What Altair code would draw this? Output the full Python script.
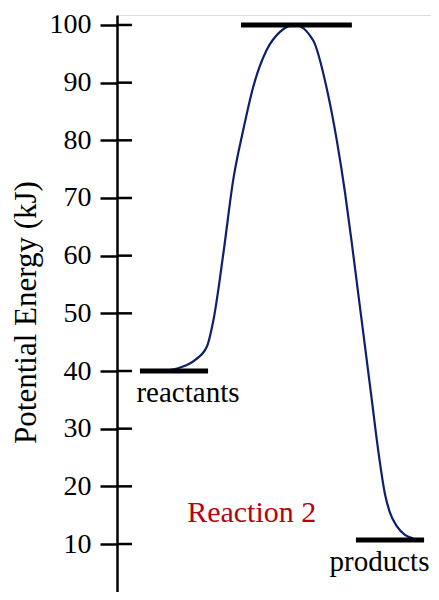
import altair as alt
import pandas as pd

# Reaction coordinate (arbitrary units, 0-100) and potential energy (kJ)
curve_x = [15.3, 20.1, 24.8, 28.6, 30.7, 33.9, 37.0, 40.2, 43.4, 47.7, 51.9, 54.6, 56.7,
           62.5, 66.8, 70.0, 72.6, 74.8, 76.9, 79.0, 81.1, 83.2, 85.4, 86.9, 89.1, 91.7, 94.3]
curve_y = [40.0, 40.6, 41.9, 44.2, 48.8, 60.5, 73.1, 81.8, 89.3, 95.7, 98.8, 99.8, 100.0,
           97.3, 89.0, 80.0, 71.0, 62.1, 53.1, 44.2, 35.2, 26.2, 18.5, 15.5, 13.1, 11.6, 11.0]

level_names = ["reactants", "transition", "products"]
level_start = [7.3, 39.5, 76.1]
level_end = [29.0, 74.8, 97.8]
level_energy = [40.0, 100.0, 10.7]

label_text = ["reactants", "products"]
label_x = [22.6, 83.6]
label_y = [40.0, 10.7]

title_text = ["Reaction 2"]
title_x = [42.9]
title_y = [13.9]

tick_values = [10, 20, 30, 40, 50, 60, 70, 80, 90, 100]

FONT = "Liberation Serif"

curve_df = pd.DataFrame({"x": curve_x, "y": curve_y})
levels_df = pd.DataFrame({"name": level_names, "x": level_start, "x2": level_end, "y": level_energy})
labels_df = pd.DataFrame({"text": label_text, "x": label_x, "y": label_y})
title_df = pd.DataFrame({"text": title_text, "x": title_x, "y": title_y})
ticks_df = pd.DataFrame({"y": tick_values})

xscale = alt.Scale(domain=[0, 100], nice=False, zero=False)
yscale = alt.Scale(domain=[1.68, 101.73], nice=False, zero=False)

yaxis = alt.Axis(
    title="Potential Energy (kJ)",
    values=tick_values,
    grid=False,
    domainColor="black",
    domainWidth=2.5,
    tickColor="black",
    tickWidth=2.5,
    tickSize=17,
    labelPadding=9,
    labelFont=FONT,
    labelFontSize=28,
    labelColor="black",
    titleFont=FONT,
    titleFontSize=31,
    titleFontWeight="normal",
    titleColor="black",
    titleAngle=270,
    titleAlign="center",
    titleBaseline="middle",
    titleX=-91,
    titleY=297,
)

base_y = alt.Y("y:Q", scale=yscale, axis=yaxis)

curve = alt.Chart(curve_df).mark_line(
    color="#0e1f6c", strokeWidth=2.2, interpolate="monotone"
).encode(
    x=alt.X("x:Q", scale=xscale, axis=None),
    y=base_y,
)

levels = alt.Chart(levels_df).mark_rule(color="black", strokeWidth=5, strokeCap="butt").encode(
    x=alt.X("x:Q", scale=xscale, axis=None),
    x2="x2:Q",
    y=alt.Y("y:Q", scale=yscale),
)

inner_ticks = alt.Chart(ticks_df).mark_rule(color="black", strokeWidth=2.5).encode(
    y=alt.Y("y:Q", scale=yscale),
    x=alt.value(0),
    x2=alt.value(15),
)

labels = alt.Chart(labels_df).mark_text(
    font=FONT, fontSize=29, color="black", align="center", baseline="alphabetic", dy=31
).encode(
    x=alt.X("x:Q", scale=xscale, axis=None),
    y=alt.Y("y:Q", scale=yscale),
    text="text:N",
)

title = alt.Chart(title_df).mark_text(
    font=FONT, fontSize=30, color="#b8000f", align="center", baseline="alphabetic"
).encode(
    x=alt.X("x:Q", scale=xscale, axis=None),
    y=alt.Y("y:Q", scale=yscale),
    text="text:N",
)

chart = alt.layer(curve, levels, inner_ticks, labels, title).properties(
    width=314,
    height=577,
    autosize=alt.AutoSizeParams(type="none"),
    padding={"left": 109, "top": 7, "right": 0, "bottom": 0},
).configure_view(stroke=None).configure(background="white")

chart.save("out.html", embed_options={"renderer": "svg", "actions": False})
